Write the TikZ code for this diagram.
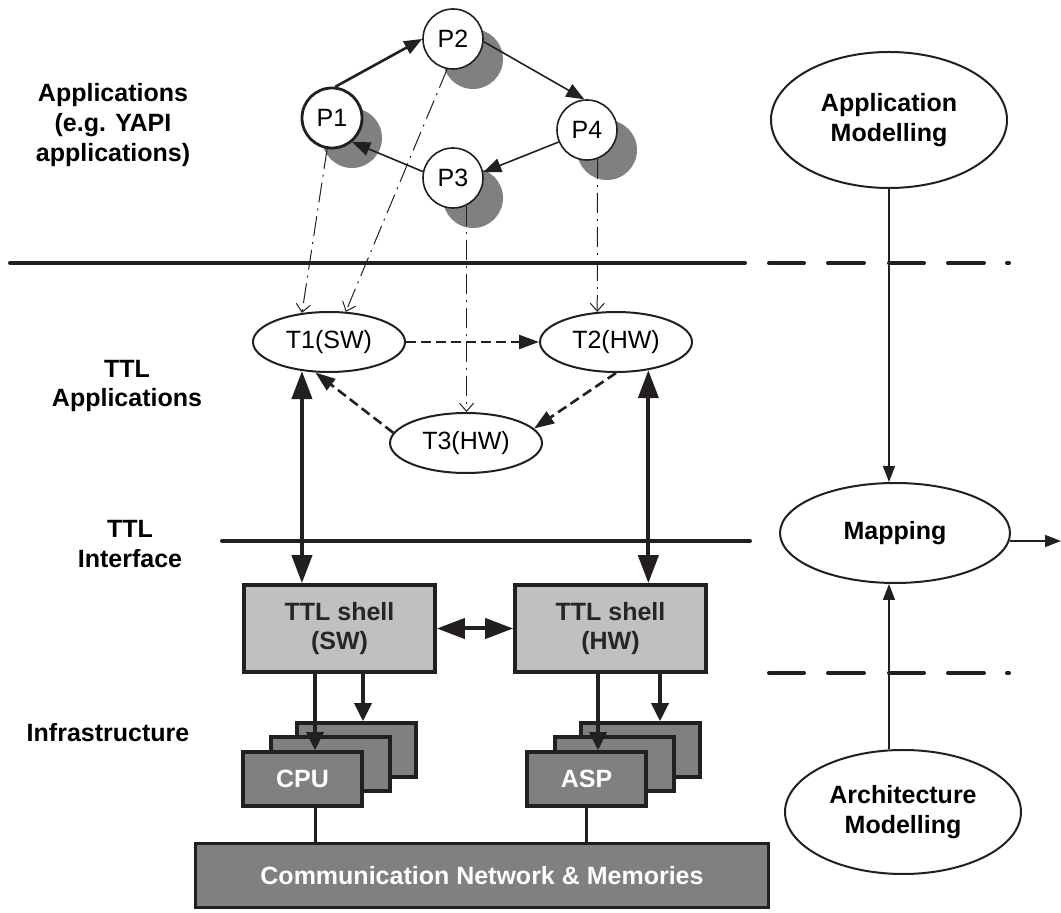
\documentclass[tikz,border=0pt]{standalone}
\usepackage{fontspec}
\setmainfont{Liberation Sans}
\usetikzlibrary{arrows.meta,positioning,shapes.geometric,shadows,calc}
\definecolor{ink}{HTML}{231F20}
\definecolor{shellgray}{HTML}{C0C0C0}
\definecolor{boxgray}{HTML}{808080}
\newcommand{\diafont}{\fontsize{12.5}{14.8}\selectfont}

\begin{document}
\begin{tikzpicture}[x=0.5pt,y=-0.5pt,
  lbl/.style={font=\diafont\bfseries,align=center,inner sep=0pt},
  proc/.style={circle,draw=ink,line width=0.8pt,fill=white,minimum size=30pt,inner sep=0pt,font=\diafont,
    drop shadow={shadow xshift=10pt,shadow yshift=-10pt,fill=boxgray,opacity=1}},
  task/.style={ellipse,draw=ink,line width=1pt,fill=white,minimum width=76pt,minimum height=30pt,inner sep=0pt,font=\diafont},
  flow/.style={ellipse,draw=ink,line width=1pt,fill=white,inner sep=0pt,font=\diafont\bfseries,align=center},
  shell/.style={draw=ink,line width=1.8pt,fill=shellgray,minimum width=95.5pt,minimum height=43.5pt,
    font=\diafont\bfseries,text=black!85,align=center},
  unit/.style={draw=ink,line width=1.8pt,fill=boxgray,minimum width=59.5pt,minimum height=27pt,
    font=\diafont\bfseries,text=white},
  sepline/.style={ink,line width=2pt,line cap=round},
  pflow/.style={ink,line width=0.8pt,-{Triangle[length=9pt,width=7pt]}},
  tflow/.style={ink,line width=1.3pt,dash pattern=on 5pt off 2.5pt,-{Triangle[length=10pt,width=7pt]}},
  mapsto/.style={ink,line width=0.5pt,dash pattern=on 10pt off 3pt on 1pt off 3pt,-{Straight Barb[length=4pt,width=7pt]}},
  link/.style={ink,line width=2pt,{Triangle[length=14pt,width=10pt]}-{Triangle[length=14pt,width=10pt]}},
  drop/.style={ink,line width=1.8pt,-{Triangle[length=9pt,width=8.5pt]}},
  bus/.style={ink,line width=1.5pt},
  fwd/.style={ink,line width=0.8pt,-{Triangle[length=8pt,width=6pt]}}]
\useasboundingbox (0,0) rectangle (1061,913);

% layer labels
\node[lbl] (lapp) at (113,125) {Applications\\(e.g. YAPI\\applications)};
\node[lbl] (lttl) at (127,386) {TTL\\Applications};
\node[lbl] (lif) at (130,544) {TTL\\Interface};
\node[lbl] (linf) at (108,733) {Infrastructure};

% layer separators
\draw[sepline] (10,263) -- (745,263);
\draw[sepline] (222,541) -- (750,541);
\foreach \a/\b in {769/804,828/864,889/924,948/984,1007/1009}{
  \draw[sepline] (\a,263) -- (\b,263);
  \draw[sepline] (\a,673) -- (\b,673);
}

% application processes
\node[proc,line width=1.4pt] (P1) at (332,118) {P1};
\node[proc] (P2) at (453,39) {P2};
\node[proc] (P4) at (587,130) {P4};
\node[proc] (P3) at (453,178) {P3};
\draw[pflow,line width=1.3pt] (P1.84) -- (P2.180);
\draw[pflow] (P2.-5) -- (P4.95);
\draw[pflow] (P4.203) -- (P3.11);
\draw[pflow] (P3.168) -- (P1.-50);

% TTL tasks
\node[task] (T1) at (329,342) {T1(SW)};
\node[task] (T2) at (616,342) {T2(HW)};
\node[task] (T3) at (466,443) {T3(HW)};
\draw[tflow] (T1) -- (T2);
\draw[tflow] (T2.-90) -- (T3.12);
\draw[tflow] (T3.172) -- (T1.-114);

% process to task mapping
\draw[mapsto] (P1.-99) -- (T1.133);
\draw[mapsto] (P2.-101) -- (T1.61);
\draw[mapsto] (P3.-64) -- (P3.-64 |- T3.north);
\draw[mapsto] (P4.-70) -- (T2.122);

% shells
\node[shell] (ssw) at (339.5,628.5) {TTL shell\\(SW)};
\node[shell,right=38.2pt of ssw] (shw) {TTL shell\\(HW)};
\draw[link] (T1.-133) -- (T1.-133 |- ssw.north);
\draw[link] (T2.-41.5) -- (T2.-41.5 |- shw.north);
\draw[link] (ssw) -- (shw);

% processing units
\node[unit] (cpu3) at (356.5,750) {};
\node[unit] (cpu2) at (330.5,764) {};
\node[unit] (cpu) at (302.5,779) {CPU};
\node[unit] (asp3) at (640.5,750) {};
\node[unit] (asp2) at (614.5,764) {};
\node[unit] (asp) at (586.5,779) {ASP};
\node[unit,line width=1.5pt,minimum width=286.5pt,minimum height=32pt] (net) at (482,876) {Communication Network \& Memories};

\coordinate (cpuin) at ($(cpu.north)+(12.5,0)$);
\coordinate (cpu3in) at ($(cpu3.north)+(6.5,0)$);
\coordinate (aspin) at ($(asp.north)+(11.5,0)$);
\coordinate (asp3in) at ($(asp3.north)+(19.5,0)$);
\coordinate (cpuout) at ($(cpu.south)+(12.5,0)$);
\draw[drop] (cpuin |- ssw.south) -- (cpuin);
\draw[drop] (cpu3in |- ssw.south) -- (cpu3in);
\draw[drop] (aspin |- shw.south) -- (aspin);
\draw[drop] (asp3in |- shw.south) -- (asp3in);
\draw[bus] (cpuout) -- (cpuout |- net.north);
\draw[bus] (asp.south) -- (asp.south |- net.north);

% design flow
\node[flow,minimum width=118pt,minimum height=68pt] (appmod) at (889,120) {Application\\Modelling};
\node[flow,minimum width=115pt,minimum height=50pt] (mapping) at (895,533) {Mapping};
\node[flow,minimum width=118pt,minimum height=62pt] (archmod) at (903,812) {Architecture\\Modelling};
\coordinate (mapout) at (1061,541);
\draw[fwd] (appmod.south) -- (appmod.south |- mapping.north);
\draw[fwd] (appmod.south |- archmod.north) -- (appmod.south |- mapping.south);
\draw[fwd] (mapping.-4) -- (mapout);
\end{tikzpicture}
\end{document}
